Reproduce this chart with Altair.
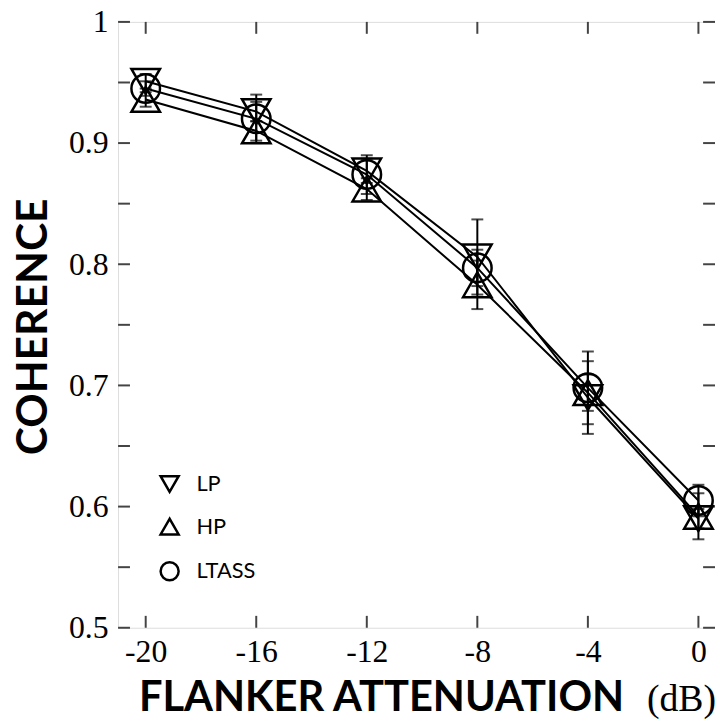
import altair as alt
import pandas as pd

# ---- data ----
atten = [-20, -16, -12, -8, -4, 0]
series = ["LP", "HP", "LTASS"]
lp = [0.951, 0.926, 0.877, 0.806, 0.690, 0.590]
hp = [0.936, 0.910, 0.862, 0.783, 0.694, 0.592]
ltass = [0.945, 0.920, 0.874, 0.797, 0.698, 0.605]
lp_err = [0.006, 0.008, 0.010, 0.031, 0.030, 0.008]
hp_err = [0.006, 0.008, 0.009, 0.020, 0.015, 0.019]
ltass_err = [0.006, 0.020, 0.016, 0.015, 0.030, 0.013]

y_ticks = [0.5, 0.55, 0.6, 0.65, 0.7, 0.75, 0.8, 0.85, 0.9, 0.95, 1.0]
y_labels = [0.5, 0.6, 0.7, 0.8, 0.9, 1.0]
x_ticks = [-20, -16, -12, -8, -4, 0]

W, H = 602, 611

rows = []
for name, vals, errs in [("LP", lp, lp_err), ("HP", hp, hp_err), ("LTASS", ltass, ltass_err)]:
    for a, v, e in zip(atten, vals, errs):
        rows.append({"atten": a, "coh": v, "lo": v - e, "hi": v + e, "series": name})
df = pd.DataFrame(rows)
ytick_df = pd.DataFrame({"v": y_ticks})
xtick_df = pd.DataFrame({"v": x_ticks})

xscale = alt.Scale(domain=[-21, 0.6], nice=False, zero=False)
yscale = alt.Scale(domain=[0.5, 1.0], nice=False, zero=False)

X = alt.X("atten:Q", scale=xscale,
          axis=alt.Axis(values=x_ticks, title=None, domain=False, ticks=False, grid=False,
                        labelExpr="'' + datum.value", labelFont="Liberation Serif",
                        labelFontSize=32, labelColor="black", labelPadding=9))
Y = alt.Y("coh:Q", scale=yscale,
          axis=alt.Axis(values=y_labels, title="COHERENCE", domain=False, ticks=False, grid=False,
                        format="~g", labelFont="Liberation Serif", labelFontSize=32,
                        labelColor="black", labelPadding=10,
                        titleFont="Lato", titleFontWeight="bold", titleFontSize=43,
                        titleColor="black", titleX=-85, titleY=307, titleAngle=270,
                        titleAlign="center", titleBaseline="middle"))

base = alt.Chart(df)

lines = base.mark_line(color="black", strokeWidth=2).encode(x=X, y=Y, detail="series:N")

err = base.mark_rule(color="black", strokeWidth=2).encode(
    x=alt.X("atten:Q", scale=xscale), y=alt.Y("lo:Q", scale=yscale), y2="hi:Q")
cap_lo = base.mark_tick(color="black", thickness=2, size=12, orient="horizontal").encode(
    x=alt.X("atten:Q", scale=xscale), y=alt.Y("lo:Q", scale=yscale))
cap_hi = base.mark_tick(color="black", thickness=2, size=12, orient="horizontal").encode(
    x=alt.X("atten:Q", scale=xscale), y=alt.Y("hi:Q", scale=yscale))

shape_scale = alt.Scale(domain=series, range=["triangle-down", "triangle-up", "circle"])
size_scale = alt.Scale(domain=series, range=[830, 830, 530])

points = base.mark_point(filled=False, color="black", strokeWidth=2.5, opacity=1).encode(
    x=alt.X("atten:Q", scale=xscale),
    y=alt.Y("coh:Q", scale=yscale),
    shape=alt.Shape("series:N", scale=shape_scale,
                    legend=alt.Legend(title=None, orient="none", legendX=41, legendY=455,
                                      symbolSize=330, symbolStrokeWidth=2.5,
                                      symbolStrokeColor="black", symbolFillColor="transparent",
                                      labelFont="Lato", labelFontSize=22, labelColor="black",
                                      labelOffset=16, rowPadding=17, padding=0)),
    size=alt.Size("series:N", scale=size_scale, legend=None),
)

tick_style = dict(color="#444", strokeWidth=2)
yt_left = alt.Chart(ytick_df).mark_rule(**tick_style).encode(
    y=alt.Y("v:Q", scale=yscale), x=alt.value(0), x2=alt.value(12))
yt_right = alt.Chart(ytick_df).mark_rule(**tick_style).encode(
    y=alt.Y("v:Q", scale=yscale), x=alt.value(W - 12), x2=alt.value(W))
xt_bot = alt.Chart(xtick_df).mark_rule(**tick_style).encode(
    x=alt.X("v:Q", scale=xscale), y=alt.value(H - 12), y2=alt.value(H))
xt_top = alt.Chart(xtick_df).mark_rule(**tick_style).encode(
    x=alt.X("v:Q", scale=xscale), y=alt.value(0), y2=alt.value(12))

title_df = pd.DataFrame({"t": ["FLANKER ATTENUATION"], "u": ["(dB)"]})
xtitle = alt.Chart(title_df).mark_text(align="left", baseline="alphabetic", font="Lato",
                                       fontWeight="bold", fontSize=42, color="black").encode(
    text="t:N", x=alt.value(21), y=alt.value(695))
xunit = alt.Chart(title_df).mark_text(align="right", baseline="alphabetic",
                                      font="Liberation Serif", fontSize=38, color="black").encode(
    text="u:N", x=alt.value(603), y=alt.value(695))

chart = alt.layer(yt_left, yt_right, xt_bot, xt_top, lines, err, cap_lo, cap_hi, points,
                  xtitle, xunit).resolve_scale(size="independent").properties(
    width=W, height=H,
    autosize=alt.AutoSizeParams(type="none"),
    padding={"left": 111, "top": 11, "right": 0, "bottom": 90},
).configure_view(stroke="#444", strokeWidth=2).configure(background="white")

chart.save("out.html", embed_options={"renderer": "svg", "actions": False})
